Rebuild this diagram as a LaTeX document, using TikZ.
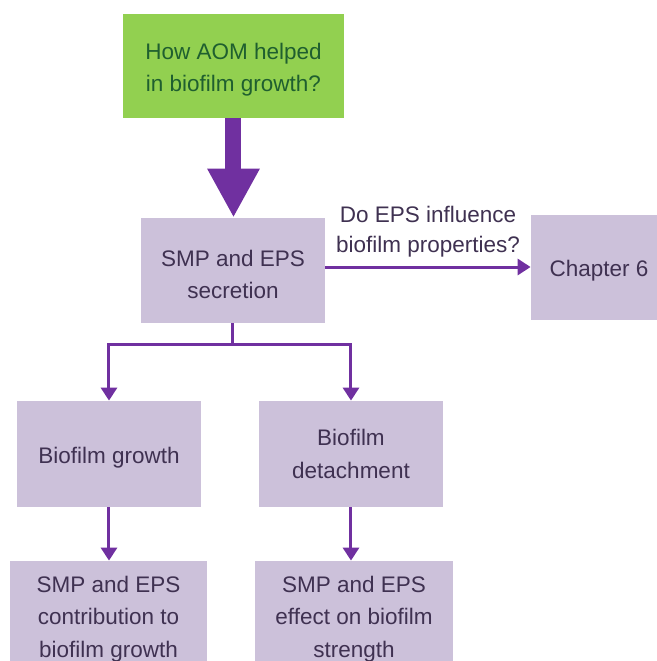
\documentclass[tikz,border=0pt]{standalone}
\usepackage{fontspec}
\setmainfont{Liberation Sans}
\usepackage{xcolor}
\usepackage{tikz}
\usetikzlibrary{arrows.meta}

\definecolor{qgreen}{HTML}{92D050}
\definecolor{qtext}{HTML}{1F5F2F}
\definecolor{boxlav}{HTML}{CCC1DA}
\definecolor{boxtext}{HTML}{3F3151}
\definecolor{arrpurple}{HTML}{7030A0}

% strut that pushes box text a little down
\newcommand{\lowstrut}{\rule{0pt}{12pt}}

\tikzset{
  qbox/.style={fill=qgreen, text=qtext, align=center, inner sep=0pt,
    minimum width=110.5pt, minimum height=52pt,
    font=\fontsize{11.25pt}{16pt}\selectfont},
  stepbox/.style={fill=boxlav, text=boxtext, align=center, inner sep=0pt,
    minimum width=92pt, minimum height=52.5pt,
    font=\fontsize{11.25pt}{16.25pt}\selectfont},
  flow/.style={arrpurple, line width=1.5pt,
    -{Triangle[width=8pt,length=6.5pt]}},
  plainflow/.style={arrpurple, line width=1.5pt},
  bigflow/.style={arrpurple, line width=8pt,
    -{Triangle[width=24.5pt,length=24.5pt]}}
}

\begin{document}
\begin{tikzpicture}[x=0.5pt,y=-0.5pt]
        % Frame
        \useasboundingbox (0,0) rectangle (657,661);
        \clip (0,0) rectangle (657,661);

        % Question
        \node[qbox] (q) at (233.5,66) {\lowstrut How AOM helped\\in biofilm growth?};

        % Boxes
        \node[stepbox] (smp) at (233,270.5) {\lowstrut SMP and EPS\\secretion};
        \node[stepbox, minimum width=68pt] (ch6) at (599,267) {\lowstrut Chapter 6};
        \node[stepbox, minimum height=53pt] (growth) at (109,454) {\lowstrut Biofilm growth};
        \node[stepbox, minimum height=53pt] (detach) at (351,454) {Biofilm\\detachment};
        \node[stepbox, minimum width=98.5pt, minimum height=54pt] (contrib) at (108.5,615)
          {\lowstrut SMP and EPS\\contribution to\\biofilm growth};
        \node[stepbox, minimum width=99pt, minimum height=54pt] (effect) at (354,615)
          {\lowstrut SMP and EPS\\effect on biofilm\\strength};

        % Big arrow
        \draw[bigflow] (q.south) -- (q.south |- smp.north);

        % Side question
        \draw[flow] (smp.east |- ch6) -- (ch6.west)
          node[midway, above=1pt, text=boxtext, align=center,
            font=\fontsize{11.25pt}{15pt}\selectfont]
          {Do EPS influence\\biofilm properties?};

        % Split
        \coordinate (split) at ([yshift=-10.5pt]smp.south);
        \draw[plainflow] (smp.south) -- (split);
        \draw[flow] (split) -| (growth.north);
        \draw[flow] (split) -| (detach.north);

        % Down arrows
        \draw[flow] (growth.south) -- (growth.south |- contrib.north);
        \draw[flow] (detach.south) -- (detach.south |- effect.north);
      \end{tikzpicture}
\end{document}
